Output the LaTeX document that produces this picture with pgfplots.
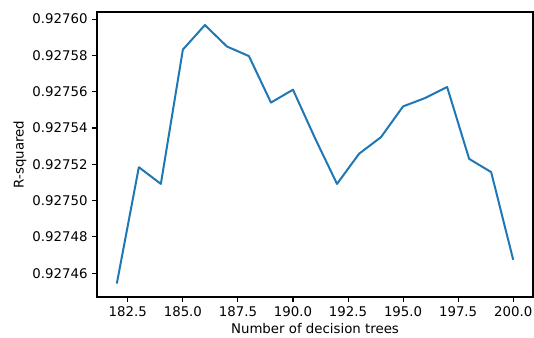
\documentclass[border=0pt]{standalone}
\usepackage{pgfplots}
\pgfplotsset{compat=1.18}
\usepackage{fontspec}
\setmainfont{DejaVu Sans}
\definecolor{mplblue}{HTML}{1F77B4}
% y values stored as (R-squared - 0.92740) x 10^5 to keep full precision
\begin{document}
\fontsize{10}{12}\selectfont
\begin{tikzpicture}
\path[use as bounding box] (0,0) rectangle (400.5pt,253.5pt);
\begin{axis}[
  at={(72.75pt,30.75pt)}, anchor=south west,
  scale only axis, width=327pt, height=213.75pt,
  xmin=181.1, xmax=200.9, ymin=4.69, ymax=20.39,
  axis line style={line width=0.8pt},
  tick style={line width=0.8pt, black},
  major tick length=3.5pt,
  tick align=outside, xtick pos=bottom, ytick pos=left,
  xtick={182.5,185,187.5,190,192.5,195,197.5,200},
  xticklabels={182.5,185.0,187.5,190.0,192.5,195.0,197.5,200.0},
  ytick={6,8,10,12,14,16,18,20},
  yticklabels={0.92746,0.92748,0.92750,0.92752,0.92754,0.92756,0.92758,0.92760},
  ticklabel style={font=\fontsize{10}{12}\selectfont},
  xticklabel style={yshift=-0.5pt},
  xlabel={Number of decision trees},
  ylabel={R-squared},
  xlabel style={at={(axis description cs:0.5,-0.112)}, anchor=center},
  ylabel style={at={(axis description cs:-0.1766,0.5)}, anchor=center, rotate=0},
  label style={font=\fontsize{10}{12}\selectfont},
]
\addplot[mplblue, line width=1.5pt, line join=round] table {
x y
182 5.43
183 11.84
184 10.92
185 18.32
186 19.67
187 18.49
188 17.96
189 15.40
190 16.11
191 13.44
192 10.92
193 12.58
194 13.50
195 15.19
196 15.65
197 16.26
198 12.30
199 11.57
200 6.74
};
\end{axis}
\end{tikzpicture}
\end{document}
